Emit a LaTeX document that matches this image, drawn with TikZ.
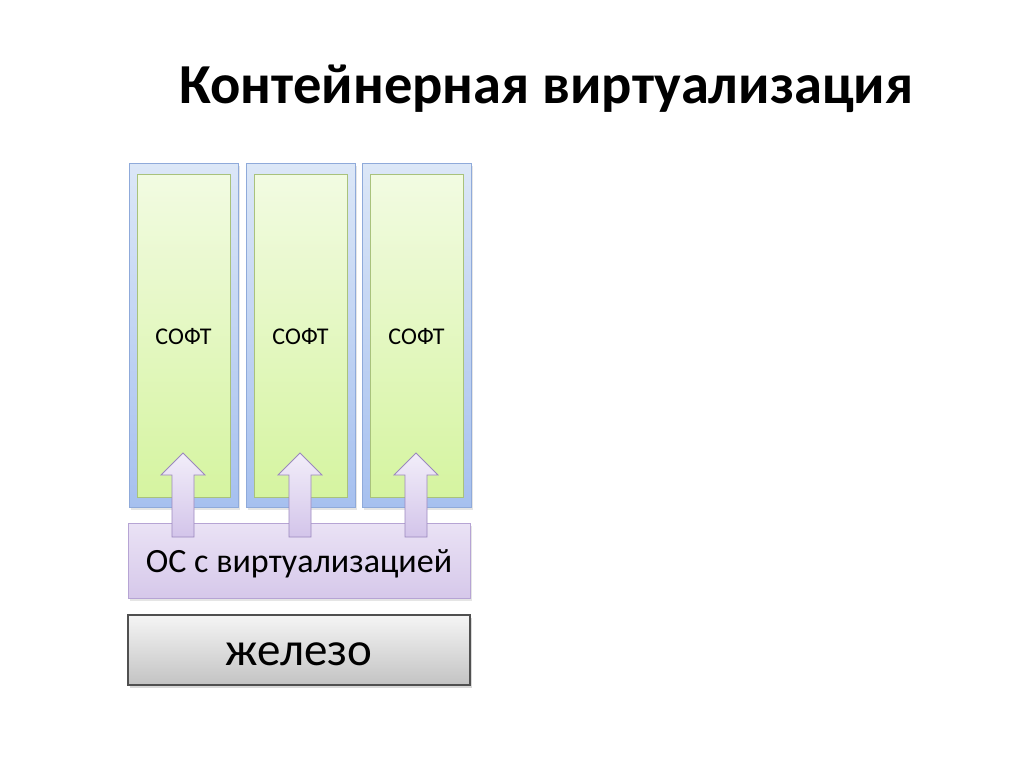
\documentclass[tikz,border=0pt]{standalone}
\usepackage{fontspec}
\setmainfont{Carlito}
\definecolor{blueT}{HTML}{DCE7F7}
\definecolor{blueB}{HTML}{A6C0EF}
\definecolor{blueD}{HTML}{8FAADA}
\definecolor{greenT}{HTML}{F2FBE2}
\definecolor{greenB}{HTML}{D5F4A0}
\definecolor{greenD}{HTML}{A9C27C}
\definecolor{purT}{HTML}{EAE2F5}
\definecolor{purB}{HTML}{D6C8EA}
\definecolor{purD}{HTML}{B6A4D4}
\definecolor{arrT}{HTML}{F2EEF9}
\definecolor{arrB}{HTML}{D3C4EA}
\definecolor{arrD}{HTML}{9B88BE}
\definecolor{grayT}{HTML}{F5F5F5}
\definecolor{grayB}{HTML}{C3C3C3}
\definecolor{grayD}{HTML}{505050}
\tikzset{
  outerbox/.style={draw=blueD, line width=1pt, shading=axis, top color=blueT, bottom color=blueB,
    minimum width=109pt, minimum height=344pt, inner sep=0pt},
  innerbox/.style={draw=greenD, line width=0.8pt, shading=axis, top color=greenT, bottom color=greenB,
    minimum width=93pt, minimum height=323pt, inner sep=0pt},
  osbox/.style={draw=purD, line width=1pt, shading=axis, top color=purT, bottom color=purB,
    minimum width=342pt, minimum height=75pt, inner sep=0pt},
  hwbox/.style={draw=grayD, line width=1.6pt, shading=axis, top color=grayT, bottom color=grayB,
    minimum width=342pt, minimum height=70pt, inner sep=0pt},
  softtext/.style={font=\fontsize{24}{28}\selectfont, inner sep=0pt},
  ostext/.style={font=\fontsize{34}{40}\selectfont, inner sep=0pt},
  hwtext/.style={font=\fontsize{47}{54}\selectfont, inner sep=0pt},
  blockarrow/.style={draw=arrD, line width=0.8pt, shading=axis, top color=arrT, bottom color=arrB}
}
\begin{document}
\begin{tikzpicture}[x=1pt,y=-1pt]
\useasboundingbox (0,0) rectangle (1024,768);
\node[font=\bfseries\fontsize{56.5}{64}\selectfont] (title) at (546.5,89) {Контейнерная виртуализация};
% shadows
\foreach \cx in {183.5,300.5,416.5}{
  \fill[black, opacity=0.10] (\cx-54.5+2,163+3) rectangle (\cx+54.5+2,507+3);
}
\fill[black, opacity=0.10] (130,526) rectangle (472,601);
\fill[black, opacity=0.15] (130,618) rectangle (472,688);
% columns
\node[outerbox] (c1) at (183.5,335) {};
\node[outerbox] (c2) at (300.5,335) {};
\node[outerbox] (c3) at (416.5,335) {};
\node[innerbox] (s1) at (183.5,335.5) {};
\node[innerbox] (s2) at (300.5,335.5) {};
\node[innerbox] (s3) at (416.5,335.5) {};
\node[softtext] (t1) at ([yshift=-1pt]s1.center) {СОФТ};
\node[softtext] (t2) at ([yshift=-1pt]s2.center) {СОФТ};
\node[softtext] (t3) at ([yshift=-1pt]s3.center) {СОФТ};
% OS box
\node[osbox] (os) at (299,560.5) {};
\node[ostext] (ost) at ([yshift=-3pt]os.center) {ОС с виртуализацией};
% hardware
\node[hwbox] (hw) at (299,650) {};
\node[hwtext] (hwt) at ([yshift=-4pt]hw.center) {железо};
% block arrows
\foreach \cx in {183,300,416}{
  \draw[blockarrow] (\cx,453) -- (\cx+22,475) -- (\cx+11,475) -- (\cx+11,537)
     -- (\cx-11,537) -- (\cx-11,475) -- (\cx-22,475) -- cycle;
}
\end{tikzpicture}
\end{document}
